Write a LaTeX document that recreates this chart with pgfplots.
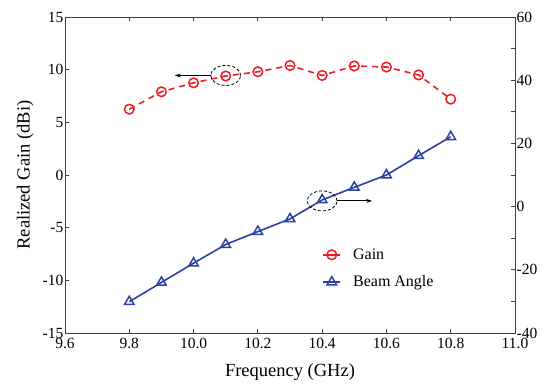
\documentclass[border=0pt]{standalone}
\usepackage{fontspec}
\setmainfont{Liberation Serif}
\usepackage{pgfplots}
\pgfplotsset{compat=1.18}
\usetikzlibrary{arrows.meta}
\definecolor{gainred}{RGB}{237,28,36}
\definecolor{beamblue}{RGB}{46,64,160}
\begin{document}
\begin{tikzpicture}
\pgfplotsset{
  every axis/.append style={
    scale only axis, width=450pt, height=316pt,
    xmin=9.6, xmax=11.0,
    tick align=inside,
    major tick length=4pt, minor tick length=4pt,
    axis line style={line width=0.8pt, black!75},
    every tick/.style={line width=0.8pt, black!75},
    tick label style={font=\fontsize{15.5}{16}\selectfont},
    label style={font=\fontsize{18.5}{20}\selectfont},
    /pgf/number format/assume math mode=true,
  }
}
\begin{axis}[
  at={(0,0)}, anchor=south west,
  ymin=-15, ymax=15,
  ytick={-15,-10,...,15},
  xtick={9.6,9.8,...,11.0},
  xticklabel style={/pgf/number format/fixed, /pgf/number format/fixed zerofill, /pgf/number format/precision=1, inner sep=2pt, yshift=-3pt},
  xtick pos=both, ytick pos=left,
  yticklabel style={inner sep=1.5pt},
  xlabel={Frequency (GHz)},
  ylabel={Realized Gain (dBi)},
  xlabel style={yshift=-9pt},
  ylabel style={yshift=4pt},
]
\addplot[color=gainred, line width=1.6pt, dash pattern=on 6pt off 5pt,
  mark=o, mark size=4.8pt, mark options={solid, line width=1.5pt}]
  coordinates {
  (9.8,6.25) (9.9,7.9) (10.0,8.75) (10.1,9.4) (10.2,9.8) (10.3,10.4)
  (10.4,9.45) (10.5,10.35) (10.6,10.25) (10.7,9.5) (10.8,7.2)
  };
\draw[densely dashed, line width=0.8pt] (axis cs:10.1,9.45) ellipse [x radius=15pt, y radius=10pt];
\draw[-{Stealth[length=6pt,width=4pt]}, line width=0.9pt] ([xshift=-15pt]axis cs:10.1,9.45) -- ([xshift=-51pt]axis cs:10.1,9.45);
\end{axis}
\begin{axis}[
  at={(0,0)}, anchor=south west,
  ymin=-40, ymax=60,
  ytick={-40,-20,...,60},
  minor ytick={-30,-10,...,50},
  axis x line=none,
  axis y line*=right,
  yticklabel style={inner sep=1.5pt},
  legend style={draw=none, fill=none, at={(0.565,0.28)}, anchor=north west,
    font=\fontsize{16}{17}\selectfont, row sep=11pt,
    /tikz/every odd column/.append style={column sep=10pt}},
  legend cell align=left,
]
\addlegendimage{color=gainred, line width=1.5pt, mark=o, mark size=4.8pt, mark options={solid, line width=1.5pt}}
\addlegendentry{Gain}
\addplot[color=beamblue, line width=1.6pt, mark=triangle, mark size=5.5pt,
  mark options={solid, line width=1.5pt}]
  coordinates {
  (9.8,-30.1) (9.9,-24.0) (10.0,-17.9) (10.1,-12.0) (10.2,-7.9) (10.3,-3.9)
  (10.4,2.1) (10.5,6.1) (10.6,10.0) (10.7,16.1) (10.8,22.1)
  };
\addlegendentry{Beam Angle}
\draw[densely dashed, line width=0.8pt] (axis cs:10.4,1.8) ellipse [x radius=15pt, y radius=10pt];
\draw[-{Stealth[length=6pt,width=4pt]}, line width=0.9pt] ([xshift=15pt]axis cs:10.4,1.8) -- ([xshift=50pt]axis cs:10.4,1.8);
\end{axis}
\pgfresetboundingbox
\path (-65pt,-51pt) rectangle (486pt,333pt);
\end{tikzpicture}
\end{document}
